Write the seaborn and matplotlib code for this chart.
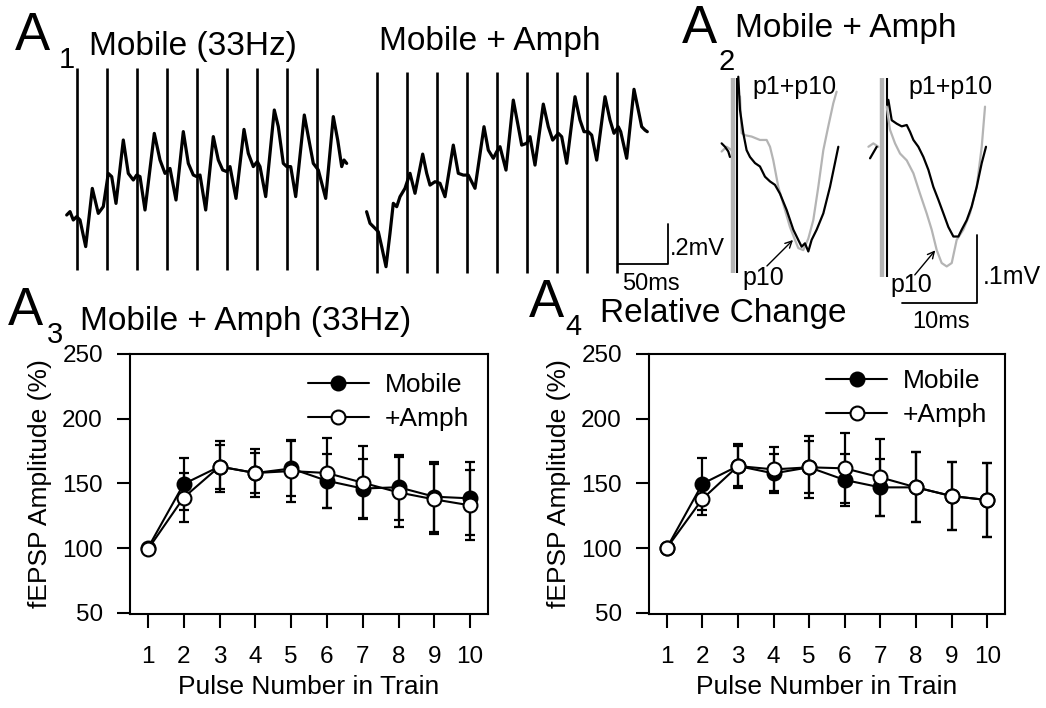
import matplotlib
matplotlib.use("Agg")
import matplotlib.pyplot as plt
import numpy as np
import pandas as pd
import seaborn as sns

# ---------------- data ----------------
pulse_number = [1, 2, 3, 4, 5, 6, 7, 8, 9, 10]
x_ticks = [1, 2, 3, 4, 5, 6, 7, 8, 9, 10]
y_ticks = [50, 100, 150, 200, 250]

# A3: Mobile + Amph (33Hz), fEPSP amplitude (%)
a3_mobile = [100, 149.5, 163, 158, 161.5, 152, 146, 147, 139.7, 138.4]
a3_mobile_se = [0, 20, 17, 15.5, 21, 21, 23, 25, 27, 28]
a3_amph = [99, 139, 163, 158, 159.5, 158, 150.5, 143, 137.6, 133]
a3_amph_se = [0, 19, 20, 18.5, 24, 27, 28, 27, 27, 27]

# A4: Relative change
a4_mobile = [100, 149.7, 163.4, 157.7, 162.4, 152.6, 146.9, 146.9, 140.2, 137.1]
a4_mobile_se = [0, 20, 17, 15, 20, 20, 22, 27, 26.5, 28.5]
a4_amph = [100, 137.9, 163.4, 160.8, 162.4, 161.6, 154.6, 146.9, 140.2, 137.1]
a4_amph_se = [0, 12, 15.5, 17, 24, 27, 30, 27, 26.5, 28.5]

# A1 traces: time (ms from first stimulus), voltage (mV, relative to start)
a1_stim_ms = [0, 30, 60, 90, 120, 150, 180, 210, 240]
a1_mobile_t = [-10, -6.7, -3.4, 0, 3.3, 9, 15.6, 21.6, 26.6, 31.6, 35, 39.3, 46.6, 51.6, 56.6,
               60, 63.3, 68.3, 77.6, 83.3, 88.3, 93.3, 99.3, 106.6, 111.6, 116.6, 120, 123.3, 129,
               136.6, 141.6, 146, 150, 153.3, 159.3, 167.3, 171.6, 176.6, 180.6, 183.3, 189, 197.6,
               201.6, 206.6, 210, 214, 219, 227.6, 231.6, 236.6, 241.6, 249, 256.6, 261, 265, 267.3, 270]
a1_mobile_v = [0, 0.017, -0.025, -0.008, -0.025, -0.158, 0.133, 0.008, 0.042, 0.208, 0.192, 0.058,
               0.375, 0.208, 0.175, 0.2, 0.192, 0.025, 0.408, 0.275, 0.208, 0.233, 0.075, 0.417, 0.258,
               0.2, 0.192, 0.2, 0.025, 0.392, 0.275, 0.225, 0.217, 0.242, 0.083, 0.428, 0.308, 0.242,
               0.267, 0.242, 0.092, 0.525, 0.442, 0.258, 0.242, 0.242, 0.092, 0.5, 0.392, 0.258, 0.225,
               0.083, 0.492, 0.375, 0.242, 0.275, 0.258]
a1_amph_t = [-10.7, -7.3, -2.3, 1.0, 4.4, 8.7, 12.7, 16.0, 19.4, 22.7, 27.7, 32.7, 37.7, 45.4, 49.4,
             52.7, 57.7, 62.7, 67.7, 76.0, 81.0, 86.0, 91.0, 97.7, 106.7, 111.0, 116.0, 119.4, 122.7,
             128.7, 136.0, 141.0, 144.4, 149.4, 152.7, 157.7, 166.0, 171.0, 175.4, 181.0, 184.4, 189.4,
             197.7, 202.7, 206.7, 211.0, 214.4, 219.4, 227.7, 232.7, 236.7, 241.0, 243.4, 249.4, 256.7,
             261.0, 264.4, 267.7, 270.0]
a1_amph_v = [0, -0.058, -0.083, -0.1, -0.175, -0.275, -0.108, 0.042, 0.025, 0.075, 0.117, 0.192,
             0.092, 0.288, 0.192, 0.133, 0.15, 0.142, 0.075, 0.333, 0.192, 0.183, 0.183, 0.117, 0.425,
             0.308, 0.267, 0.3, 0.325, 0.208, 0.558, 0.425, 0.333, 0.342, 0.375, 0.233, 0.538, 0.425,
             0.358, 0.392, 0.375, 0.242, 0.575, 0.458, 0.4, 0.4, 0.383, 0.258, 0.575, 0.458, 0.392,
             0.425, 0.4, 0.267, 0.612, 0.508, 0.425, 0.408, 0.4]

# A2: p1 (black) and p10 (grey) overlaid, time (ms from stimulus), voltage (mV)
a2_left_p1_t = [-2.09, -1.64, -1.2, -0.98, 0.13, 0.36, 0.8, 1.24, 1.69, 2.36, 3.02, 3.69, 4.36, 5.02,
                5.69, 6.58, 7.47, 8.13, 8.58, 9.02, 9.47, 9.91, 10.58, 11.47, 12.36, 13.02, 13.47]
a2_left_p1_v = [0, -0.005, -0.012, -0.02, 0.098, 0.049, 0.015, -0.01, -0.02, -0.029, -0.034, -0.049,
                -0.056, -0.061, -0.074, -0.098, -0.127, -0.142, -0.152, -0.147, -0.159, -0.142, -0.127,
                -0.103, -0.064, -0.029, -0.005]
a2_left_p10_t = [-2.09, -1.42, -0.76, 0.36, 0.58, 1.02, 1.91, 3.02, 3.91, 4.36, 4.8, 5.47, 6.36, 7.02,
                 7.69, 8.13, 8.8, 9.47, 10.13, 10.8, 11.47, 12.13, 12.8, 13.24]
a2_left_p10_v = [-0.012, -0.005, -0.01, 0.069, 0.015, 0.012, 0.01, 0.005, 0.005, -0.005, -0.025, -0.064,
                 -0.098, -0.123, -0.142, -0.154, -0.157, -0.14, -0.113, -0.064, -0.01, 0.025, 0.059, 0.076]
a2_right_p1_t = [-2.22, -1.33, 0.22, 0.67, 1.33, 2.0, 2.67, 3.11, 3.56, 4.22, 4.89, 5.56, 6.22, 6.89,
                 7.56, 8.22, 8.89, 9.56, 10.0, 10.67, 11.33, 12.0, 12.67, 13.24]
a2_right_p1_v = [-0.022, -0.005, 0.064, 0.034, 0.029, 0.025, 0.027, 0.017, 0.005, -0.005, -0.02, -0.039,
                 -0.064, -0.083, -0.103, -0.123, -0.137, -0.137, -0.127, -0.113, -0.093, -0.064, -0.029, -0.005]
a2_right_p10_t = [-2.44, -1.78, -1.11, 0, 0.44, 1.11, 1.78, 2.67, 3.56, 4.44, 5.33, 6.0, 6.67, 7.33,
                  8.0, 8.67, 9.33, 10.22, 11.11, 12.0, 12.67, 13.11]
a2_right_p10_v = [-0.005, 0, -0.005, 0.054, 0.02, 0, -0.015, -0.025, -0.044, -0.074, -0.103, -0.127,
                  -0.157, -0.176, -0.181, -0.176, -0.142, -0.127, -0.103, -0.064, -0.005, 0.054]

# ---------------- style ----------------
sns.set_theme(style="ticks")
plt.rcParams["font.family"] = ["Liberation Sans", "DejaVu Sans"]
plt.rcParams["axes.edgecolor"] = "black"
plt.rcParams["xtick.color"] = "black"
plt.rcParams["ytick.color"] = "black"
plt.rcParams["text.color"] = "black"
plt.rcParams["axes.labelcolor"] = "black"

W, H = 1046, 708
fig = plt.figure(figsize=(W / 100, H / 100), dpi=100)


def fx(px):
    return px / W


def fy(py):
    return 1 - py / H


GREY = "#b4b4b4"

# ---------------- A1 traces ----------------
ax1 = fig.add_axes([fx(40), fy(300), fx(700) - fx(40), (300 - 60) / H])
ax1.set_xlim(0, 660)
ax1.set_ylim(0, 1.2)
ax1.axis("off")
for x_off, y_off, y_lo, y_hi, tt, vv in [
    (36.7, 0.425, 0.15, 1.16, a1_mobile_t, a1_mobile_v),
    (337.3, 0.4415, 0.1335, 1.1415, a1_amph_t, a1_amph_v),
]:
    ax1.vlines(np.array(a1_stim_ms) + x_off, y_lo, y_hi, color="black", lw=1.9)
    sns.lineplot(x=np.array(tt) + x_off, y=np.array(vv) + y_off, ax=ax1, color="black",
                 lw=2.3, sort=False, estimator=None)
# scale bar 50 ms / 0.2 mV
ax1.plot([578, 628, 628], [0.18, 0.18, 0.38], color="black", lw=1.3)
ax1.text(611, 0.135, "50ms", ha="center", va="top", fontsize=17)
ax1.text(630, 0.255, ".2mV", ha="left", va="center", fontsize=17)

# ---------------- A2 traces ----------------
ax2 = fig.add_axes([fx(710), fy(340), fx(1046) - fx(710), (340 - 60) / H])
ax2.set_xlim(0, 44.8)
ax2.set_ylim(0, 0.4118)
ax2.axis("off")
base = 0.2892


def a2_trace(tt, vv, x_off, color):
    t = np.array(tt)
    df = pd.DataFrame({"t": t + x_off, "v": np.array(vv) + base,
                       "seg": np.where(t < 0, "pre", "post")})
    sns.lineplot(data=df, x="t", y="v", units="seg", ax=ax2, color=color, lw=1.6,
                 sort=False, estimator=None)


for x_off, g_off, top, bot, p1t, p1v, p10t, p10v in [
    (3.64, 0.53, 0.385, 0.0985, a2_left_p1_t, a2_left_p1_v, a2_left_p10_t, a2_left_p10_v),
    (23.56, 0.67, 0.385, 0.0926, a2_right_p1_t, a2_right_p1_v, a2_right_p10_t, a2_right_p10_v),
]:
    ax2.vlines(x_off - g_off, bot, top, color=GREY, lw=3.2)
    ax2.vlines(x_off, bot, top, color="black", lw=1.5)
    a2_trace(p10t, p10v, x_off, GREY)
    a2_trace(p1t, p1v, x_off, "black")
ax2.text(5.6, 0.372, "p1+p10", ha="left", va="center", fontsize=18)
ax2.text(26.4, 0.372, "p1+p10", ha="left", va="center", fontsize=18)
ax2.text(4.27, 0.091, "p10", ha="left", va="center", fontsize=18)
ax2.text(24.0, 0.081, "p10", ha="left", va="center", fontsize=18)
ax2.annotate("", xy=(11.33, 0.150), xytext=(7.33, 0.106),
             arrowprops=dict(arrowstyle="->", lw=1.0, color="black"))
ax2.annotate("", xy=(30.27, 0.135), xytext=(27.07, 0.0926),
             arrowprops=dict(arrowstyle="->", lw=1.0, color="black"))
ax2.plot([25.56, 35.56, 35.56], [0.0544, 0.0544, 0.1544], color="black", lw=1.3)
ax2.text(30.8, 0.043, "10ms", ha="center", va="top", fontsize=17)
ax2.text(36.4, 0.0926, ".1mV", ha="left", va="center", fontsize=18)


# ---------------- A3 / A4 summary plots ----------------
def summary(ax, mob, mob_se, amph, amph_se, leg_anchor):
    for vals, se in [(mob, mob_se), (amph, amph_se)]:
        ax.errorbar(pulse_number, vals, yerr=se, fmt="none", ecolor="black",
                    elinewidth=1.6, capsize=3.8, capthick=1.6, zorder=2)
    df_m = pd.DataFrame({"pulse": pulse_number, "amp": mob})
    df_a = pd.DataFrame({"pulse": pulse_number, "amp": amph})
    sns.lineplot(data=df_m, x="pulse", y="amp", ax=ax, color="black", lw=1.5, marker="o",
                 markersize=10, markerfacecolor="black", markeredgecolor="black",
                 markeredgewidth=1.5, label="Mobile", zorder=3)
    sns.lineplot(data=df_a, x="pulse", y="amp", ax=ax, color="black", lw=1.5, marker="o",
                 markersize=10, markerfacecolor="white", markeredgecolor="black",
                 markeredgewidth=1.5, label="+Amph", zorder=4)
    ax.set_xlim(0.5, 10.5)
    ax.set_ylim(49, 250)
    ax.set_xticks(x_ticks)
    ax.set_yticks(y_ticks)
    ax.tick_params(axis="x", direction="out", length=10, width=1.5, labelsize=17.5, pad=13)
    ax.tick_params(axis="y", direction="out", length=9.5, width=1.5, labelsize=17.5, pad=10)
    for s in ax.spines.values():
        s.set_visible(True)
        s.set_linewidth(1.5)
        s.set_color("black")
    ax.set_xlabel("Pulse Number in Train", fontsize=19, labelpad=5)
    ax.set_ylabel("fEPSP Amplitude (%)", fontsize=19, labelpad=7)
    ax.legend(loc="upper right", bbox_to_anchor=leg_anchor, frameon=False, fontsize=19,
              handlelength=2.3, handletextpad=0.6, labelspacing=0.38, borderpad=0,
              borderaxespad=0)


ax3 = fig.add_axes([fx(130), fy(614), fx(488) - fx(130), (614 - 354) / H])
summary(ax3, a3_mobile, a3_mobile_se, a3_amph, a3_amph_se, (0.947, 0.927))
ax4 = fig.add_axes([fx(649), fy(614), fx(1005) - fx(649), (614 - 354) / H])
summary(ax4, a4_mobile, a4_mobile_se, a4_amph, a4_amph_se, (0.95, 0.943))

# ---------------- panel letters and titles ----------------
def label(px, py, s, size):
    fig.text(fx(px), fy(py), s, ha="left", va="baseline", fontsize=size)


label(15, 50, "A", 38)
label(59, 68, "1", 21)
label(89, 55, "Mobile (33Hz)", 24)
label(379, 50, "Mobile + Amph", 24)
label(682, 43, "A", 38)
label(718, 70, "2", 21)
label(735, 37, "Mobile + Amph", 24)
label(8, 325, "A", 38)
label(47, 343, "3", 21)
label(80, 330, "Mobile + Amph (33Hz)", 24)
label(529, 317, "A", 38)
label(565, 335, "4", 21)
label(600, 322, "Relative Change", 24)

fig.savefig("out.png", dpi=100)
